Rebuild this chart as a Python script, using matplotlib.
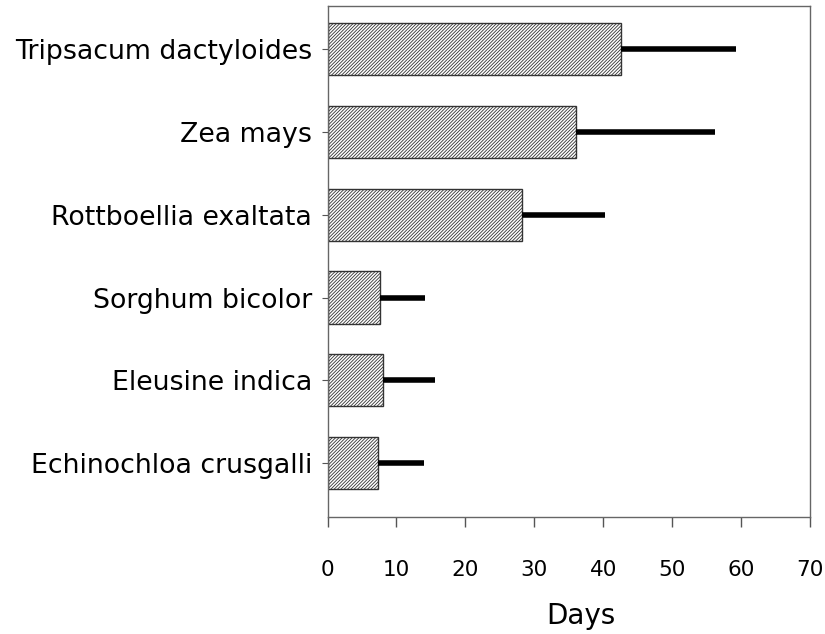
import matplotlib.pyplot as plt

# species, bottom to top as drawn
species = ['Echinochloa crusgalli', 'Eleusine indica', 'Sorghum bicolor',
           'Rottboellia exaltata', 'Zea mays', 'Tripsacum dactyloides']
days = [7.3, 8.1, 7.6, 28.2, 36.0, 42.6]
err = [6.7, 7.5, 6.5, 12.0, 20.2, 16.7]

plt.rcParams['font.family'] = ['DejaVu Sans']
plt.rcParams['hatch.linewidth'] = 0.6
plt.rcParams['hatch.color'] = '#333333'

fig = plt.figure(figsize=(8.25, 6.34), dpi=100)
ax = fig.add_axes([0.397, 0.1845, 0.585, 0.806])

y = range(len(species))
ax.barh(y, days, height=0.63, color='white', edgecolor='#333333',
        linewidth=1.0, hatch='//////////', zorder=2)
ax.errorbar(days, y, xerr=[[0] * len(err), err], fmt='none',
            ecolor='black', elinewidth=4, capsize=0, zorder=3)

ax.set_xlim(0, 70)
ax.set_ylim(-0.65, 5.52)
ax.set_xticks(range(0, 71, 10))
ax.set_yticks(list(y))
ax.set_yticklabels(species, fontsize=19.3)
ax.tick_params(axis='x', direction='out', length=7, width=1, color='#555555',
               pad=24, labelsize=15.5)
ax.tick_params(axis='y', direction='out', length=4, width=0.8, color='#555555',
               pad=7)

for s in ax.spines.values():
    s.set_color('#666666')
    s.set_linewidth(1.0)

ax.set_xlabel('Days', fontsize=20, va='center')
ax.xaxis.set_label_coords(0.525, -0.194)

plt.savefig('out.png', dpi=100)
